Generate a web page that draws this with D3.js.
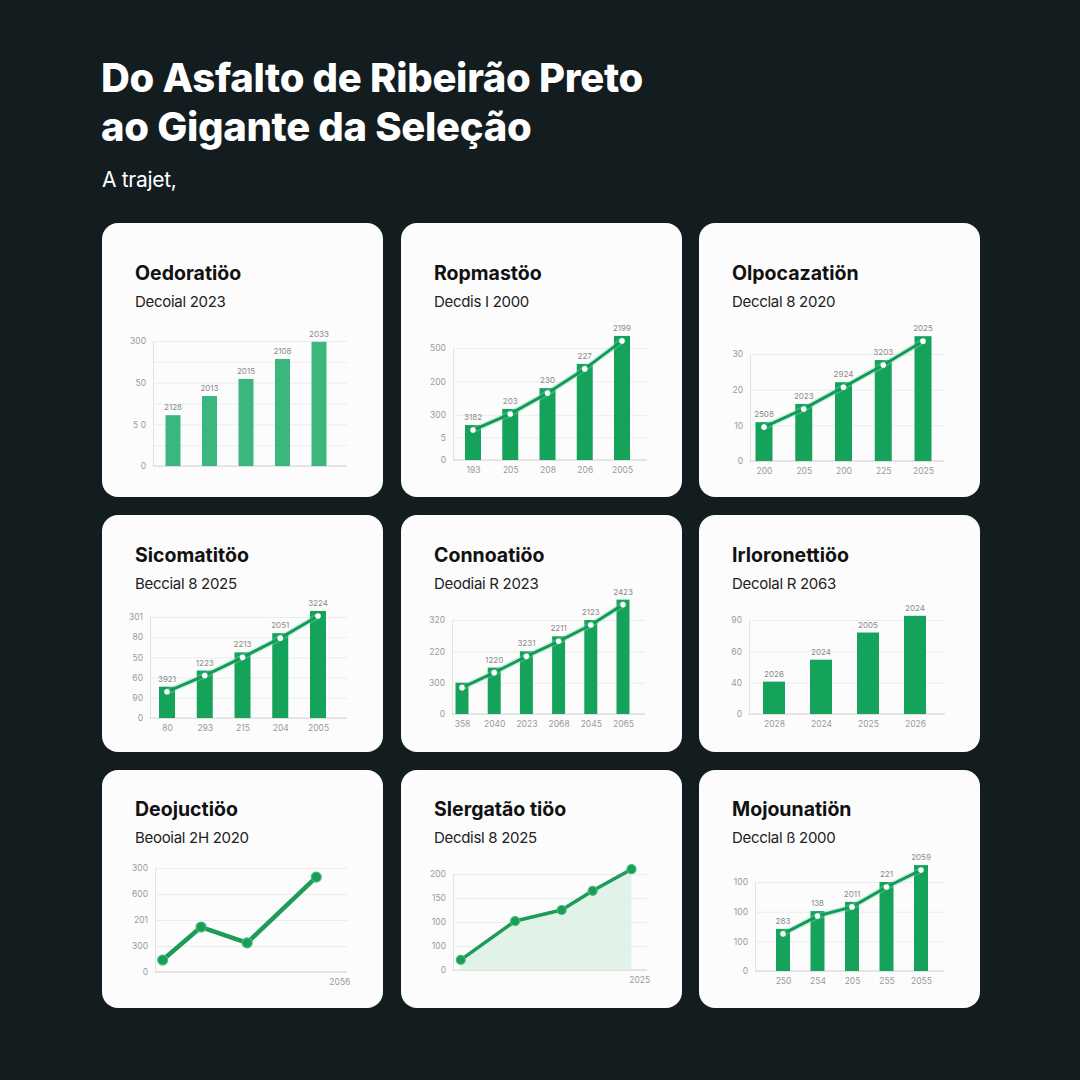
<!DOCTYPE html>
<html>
<head>
<meta charset="utf-8">
<script src="https://cdn.jsdelivr.net/npm/d3@7"></script>
<style>
  html, body { margin: 0; padding: 0; background: #131c1f; }
  svg { display: block; font-family: Inter, "Noto Sans", sans-serif; }
</style>
</head>
<body>
<div id="chart-container"></div>
<script>
// --- DATA ---
const pageTitle = ["Do Asfalto de Ribeirão Preto", "ao Gigante da Seleção"];
const pageSubtitle = "A trajet,";

const cardTitles = ["Oedoratiöo", "Ropmastöo", "Olpocazatiön", "Sicomatitöo", "Connoatiöo",
  "Irloronettiöo", "Deojuctiöo", "Slergatão tiöo", "Mojounatiön"];
const cardSubtitles = ["Decoial 2023", "Decdis I 2000", "Decclal 8 2020", "Beccial 8 2025",
  "Deodiai R 2023", "Decolal R 2063", "Beooial 2H 2020", "Decdisl 8 2025", "Decclal ß 2000"];
const chartKinds = ["bar", "combo", "combo", "combo", "combo", "bar", "line", "area", "combo"];

const values1 = [122, 168, 209, 257, 298];
const values2 = [156, 228, 321, 429, 554];
const values3 = [10.9, 16, 22.1, 28.3, 35];
const values4 = [31, 47, 65, 84, 106];
const values5 = [100, 148, 200, 248, 300, 365];
const values6 = [31, 52, 78, 94];
const values7 = [46, 173, 112, 365];
const values8 = [21, 102, 125, 165, 210];
const values9 = [142, 202, 233, 300, 357];

const years7 = [2001, 2006, 2012, 2021];
const years8 = [2001, 2008, 2014, 2018, 2023];

const xLabels1 = [];
const xLabels2 = ["193", "205", "208", "206", "2005"];
const xLabels3 = ["200", "205", "200", "225", "2025"];
const xLabels4 = ["80", "293", "215", "204", "2005"];
const xLabels5 = ["358", "2040", "2023", "2068", "2045", "2065"];
const xLabels6 = ["2028", "2024", "2025", "2026"];
const xLabels7 = ["2056"];
const xLabels8 = ["2025"];
const xLabels9 = ["250", "254", "205", "255", "2055"];

const valueLabels1 = ["2128", "2013", "2015", "2108", "2033"];
const valueLabels2 = ["3182", "203", "230", "227", "2199"];
const valueLabels3 = ["2508", "2023", "2924", "3203", "2025"];
const valueLabels4 = ["3921", "1223", "2213", "2051", "3224"];
const valueLabels5 = ["", "1220", "3231", "2211", "2123", "2423"];
const valueLabels6 = ["2026", "2024", "2005", "2024"];
const valueLabels9 = ["283", "138", "2011", "221", "2059"];

const yTicks1 = [0, 100, 200, 300];       const yTickLabels1 = ["0", "5 0", "50", "300"];
const yTicks2 = [0, 100, 200, 350, 500];  const yTickLabels2 = ["0", "5", "300", "200", "500"];
const yTicks3 = [0, 10, 20, 30];          const yTickLabels3 = ["0", "10", "20", "30"];
const yTicks4 = [0, 20, 40, 60, 80, 100]; const yTickLabels4 = ["0", "90", "60", "50", "80", "301"];
const yTicks5 = [0, 100, 200, 300];       const yTickLabels5 = ["0", "300", "220", "320"];
const yTicks6 = [0, 30, 60, 90];          const yTickLabels6 = ["0", "40", "60", "90"];
const yTicks7 = [0, 100, 200, 300, 400];  const yTickLabels7 = ["0", "300", "201", "600", "300"];
const yTicks8 = [0, 50, 100, 150, 200];   const yTickLabels8 = ["0", "100", "100", "150", "200"];
const yTicks9 = [0, 100, 200, 300];       const yTickLabels9 = ["0", "100", "100", "100"];
const gridTicks1 = [0, 50, 100, 150, 200, 250, 300];

const charts = [
  { values: values1, xLabels: xLabels1, valueLabels: valueLabels1, yTicks: yTicks1, yTickLabels: yTickLabels1, grid: gridTicks1 },
  { values: values2, xLabels: xLabels2, valueLabels: valueLabels2, yTicks: yTicks2, yTickLabels: yTickLabels2 },
  { values: values3, xLabels: xLabels3, valueLabels: valueLabels3, yTicks: yTicks3, yTickLabels: yTickLabels3 },
  { values: values4, xLabels: xLabels4, valueLabels: valueLabels4, yTicks: yTicks4, yTickLabels: yTickLabels4 },
  { values: values5, xLabels: xLabels5, valueLabels: valueLabels5, yTicks: yTicks5, yTickLabels: yTickLabels5 },
  { values: values6, xLabels: xLabels6, valueLabels: valueLabels6, yTicks: yTicks6, yTickLabels: yTickLabels6 },
  { values: values7, years: years7, xLabels: xLabels7, yTicks: yTicks7, yTickLabels: yTickLabels7 },
  { values: values8, years: years8, xLabels: xLabels8, yTicks: yTicks8, yTickLabels: yTickLabels8 },
  { values: values9, xLabels: xLabels9, valueLabels: valueLabels9, yTicks: yTicks9, yTickLabels: yTickLabels9 }
];

// --- LAYOUT (card-relative plot geometry) ---
// left/right = axis extent, first/last = centre of first/last category,
// base = pixel of 0, top = pixel of yMax, bw = bar width
const layout = [
  { left: 51, right: 245, first: 71, last: 217, base: 243, top: 118, yMax: 300, bw: 15 },
  { left: 52, right: 246, first: 72, last: 221, base: 237, top: 125, yMax: 500, bw: 16 },
  { left: 51, right: 245, first: 65, last: 224, base: 238, top: 131, yMax: 30, bw: 17 },
  { left: 48, right: 245, first: 65, last: 216, base: 203, top: 102, yMax: 100, bw: 16 },
  { left: 51, right: 244, first: 61, last: 222, base: 199, top: 105, yMax: 300, bw: 13 },
  { left: 50, right: 246, first: 75, last: 216, base: 199, top: 105, yMax: 90, bw: 22 },
  { left: 53, right: 245, base: 202, top: 98, yMax: 400, xTick: 2024 },
  { left: 52, right: 246, base: 200, top: 104, yMax: 200, xTick: 2024 },
  { left: 56, right: 245, first: 84, last: 222, base: 201, top: 112, yMax: 300, bw: 14 }
];

const colX = [102, 401, 699];
const rowY = [223, 515, 770];
const rowH = [274, 237, 238];
const cardW = 281;
const titleOffset = [57, 47, 46];

const green = "#15a35b";
const lightBar = "#3bb77e";

// --- SETUP ---
const svg = d3.select("#chart-container")
  .append("svg")
  .attr("width", 1080)
  .attr("height", 1080);

svg.append("rect").attr("width", 1080).attr("height", 1080).attr("fill", "#131c1f");

svg.selectAll(".ptitle").data(pageTitle).enter().append("text")
  .attr("x", 101).attr("y", (d, k) => 92 + k * 49)
  .attr("fill", "#ffffff")
  .attr("font-size", 40).attr("font-weight", 800).attr("letter-spacing", -0.3)
  .text((d) => d);
svg.append("text")
  .attr("x", 102).attr("y", 187)
  .attr("fill", "#ffffff")
  .attr("font-size", 21).attr("letter-spacing", -0.3)
  .text(pageSubtitle);

// --- CARDS ---
charts.forEach((c, i) => {
  const row = Math.floor(i / 3), col = i % 3;
  const L = layout[i];
  const g = svg.append("g").attr("transform", `translate(${colX[col]},${rowY[row]})`);

  g.append("rect")
    .attr("width", cardW).attr("height", rowH[row])
    .attr("rx", 16)
    .attr("fill", "#fcfcfc");

  g.append("text")
    .attr("x", 33).attr("y", titleOffset[row])
    .attr("font-size", 19.5).attr("font-weight", 700).attr("fill", "#111")
    .text(cardTitles[i]);
  g.append("text")
    .attr("x", 33).attr("y", titleOffset[row] + 27)
    .attr("font-size", 15).attr("fill", "#222")
    .attr("letter-spacing", -0.3)
    .text(cardSubtitles[i]);

  const y = d3.scaleLinear().domain([0, L.yMax]).range([L.base, L.top]);

  // gridlines
  g.append("g")
    .attr("transform", `translate(${L.left},0)`)
    .call(d3.axisLeft(y).tickValues(c.grid || c.yTicks).tickSize(-(L.right - L.left)).tickFormat(""))
    .call((a) => a.select(".domain").remove())
    .call((a) => a.selectAll("line").attr("stroke", "#ececec"));

  // y labels
  g.append("g")
    .attr("transform", `translate(${L.left},0)`)
    .call(d3.axisLeft(y).tickValues(c.yTicks).tickSize(0).tickPadding(7)
      .tickFormat((d, k) => c.yTickLabels[k]))
    .call((a) => a.select(".domain").attr("stroke", "#e2e2e2"))
    .call((a) => a.selectAll("text").attr("fill", "#9a9a9a").attr("font-size", 8.5).attr("font-family", "Inter, sans-serif"));

  // baseline
  g.append("line")
    .attr("x1", L.left).attr("x2", L.right)
    .attr("y1", y(0)).attr("y2", y(0))
    .attr("stroke", "#d6d6d6");

  const kind = chartKinds[i];

  if (kind === "line" || kind === "area") {
    const x = d3.scaleLinear().domain([2000, 2025]).range([L.left, L.right]);
    const pts = c.values.map((v, k) => ({ x: c.years[k], v }));

    g.append("g")
      .attr("transform", `translate(0,${L.base})`)
      .call(d3.axisBottom(x).tickValues([L.xTick]).tickSize(0).tickPadding(7)
        .tickFormat((d, k) => c.xLabels[k]))
      .call((a) => a.select(".domain").remove())
      .call((a) => a.selectAll("text").attr("fill", "#9a9a9a").attr("font-size", 8.5).attr("font-family", "Inter, sans-serif"));

    if (kind === "area") {
      const area = d3.area().x((d) => x(d.x)).y0(y(0)).y1((d) => y(d.v));
      g.append("path").datum(pts).attr("d", area).attr("fill", "#dcf1e4").attr("opacity", 0.85);
    }
    const line = d3.line().x((d) => x(d.x)).y((d) => y(d.v));
    g.append("path").datum(pts).attr("d", line)
      .attr("fill", "none").attr("stroke", "#1d9b58")
      .attr("stroke-width", kind === "line" ? 4.5 : 3.5)
      .attr("stroke-linejoin", "round");
    g.selectAll(".pt").data(pts).enter().append("circle")
      .attr("cx", (d) => x(d.x)).attr("cy", (d) => y(d.v))
      .attr("r", kind === "line" ? 5 : 4.5)
      .attr("fill", "#1d9b58").attr("stroke", "#3fbf7a").attr("stroke-width", 1.2);
    return;
  }

  const x = d3.scalePoint().domain(d3.range(c.values.length)).range([L.first, L.last]);

  if (c.xLabels.length) {
    g.append("g")
      .attr("transform", `translate(0,${L.base})`)
      .call(d3.axisBottom(x).tickSize(0).tickPadding(7).tickFormat((d) => c.xLabels[d]))
      .call((a) => a.select(".domain").remove())
      .call((a) => a.selectAll("text").attr("fill", "#9a9a9a").attr("font-size", 8.5).attr("font-family", "Inter, sans-serif"));
  }

  g.selectAll(".bar").data(c.values).enter().append("rect")
    .attr("x", (d, k) => x(k) - L.bw / 2)
    .attr("y", (d) => y(d))
    .attr("width", L.bw)
    .attr("height", (d) => y(0) - y(d))
    .attr("fill", i === 0 ? lightBar : green);

  g.selectAll(".vlab").data(c.values).enter().append("text")
    .attr("x", (d, k) => x(k))
    .attr("y", (d) => y(d) - 5)
    .attr("text-anchor", "middle")
    .attr("font-size", 8).attr("fill", "#8a8a8a")
    .text((d, k) => c.valueLabels[k]);

  if (kind === "combo") {
    const line = d3.line().x((d, k) => x(k)).y((d) => y(d) + 5);
    g.append("path").datum(c.values).attr("d", line)
      .attr("fill", "none").attr("stroke", "#7fe0ac").attr("stroke-width", 6).attr("opacity", 0.35);
    g.append("path").datum(c.values).attr("d", line)
      .attr("fill", "none").attr("stroke", "#15995a").attr("stroke-width", 3)
      .attr("stroke-linejoin", "round");
    g.selectAll(".dot").data(c.values).enter().append("circle")
      .attr("cx", (d, k) => x(k)).attr("cy", (d) => y(d) + 5)
      .attr("r", 2.8).attr("fill", "#ffffff");
  }
});
</script>
</body>
</html>
